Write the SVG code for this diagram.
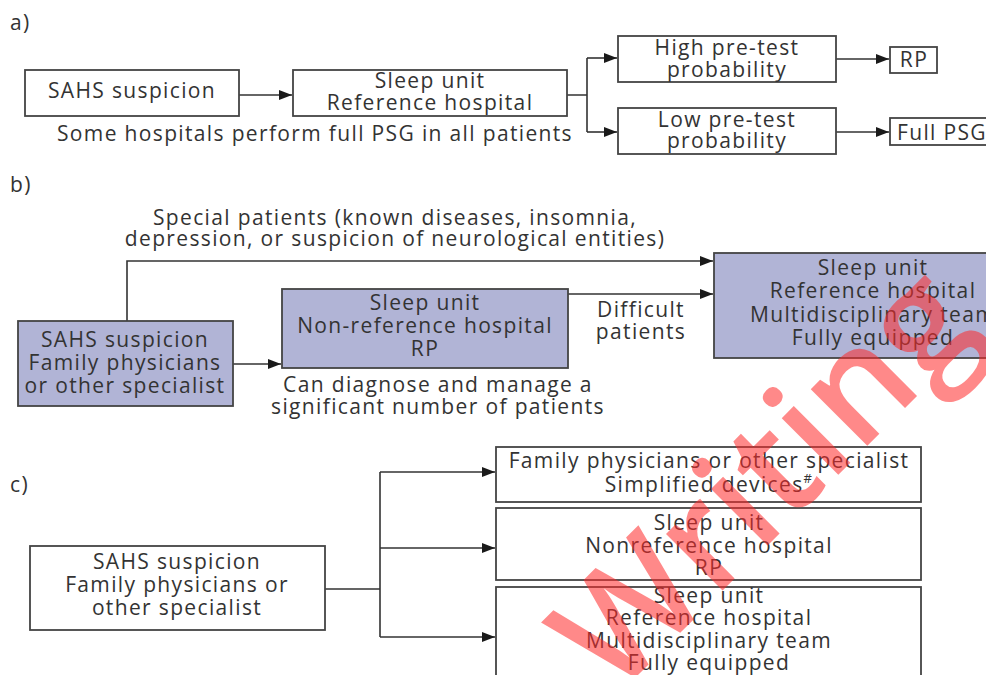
<svg xmlns="http://www.w3.org/2000/svg" width="986" height="675" viewBox="0 0 986 675">
<style>
text{font-family:"Open Sans","Liberation Sans",sans-serif;font-size:21px;fill:#333;letter-spacing:1.35px}
.c{text-anchor:middle}
.box{fill:#fff;stroke:#444;stroke-width:1.8}
.bl{fill:#b1b4d6;stroke:#444;stroke-width:1.8}
.ln{fill:none;stroke:#333;stroke-width:1.6}
.wm{font-family:"Open Sans","Liberation Sans",sans-serif;font-size:148px;font-weight:600;fill:#ff2a2a;opacity:0.55;letter-spacing:0}
</style>
<defs>
<marker id="ah" viewBox="0 0 13 10" refX="13" refY="5" markerWidth="13" markerHeight="10" markerUnits="userSpaceOnUse" orient="auto">
<path d="M0,0 L13,5 L0,10 z" fill="#1a1a1a"/>
</marker>
</defs>
<rect width="986" height="675" fill="#fff"/>

<!-- panel labels -->
<text x="10" y="30">a)</text>
<text x="10" y="192">b)</text>
<text x="10" y="492">c)</text>

<!-- connectors -->
<g id="connectors">
<path class="ln" d="M239,95 H292" marker-end="url(#ah)"/>
<path class="ln" d="M567,95 H587 M587,58 V132"/>
<path class="ln" d="M587,58 H617" marker-end="url(#ah)"/>
<path class="ln" d="M587,132 H617" marker-end="url(#ah)"/>
<path class="ln" d="M836,59 H889" marker-end="url(#ah)"/>
<path class="ln" d="M836,132 H889" marker-end="url(#ah)"/>
<path class="ln" d="M127,321 V261 H713" marker-end="url(#ah)"/>
<path class="ln" d="M233,364 H281" marker-end="url(#ah)"/>
<path class="ln" d="M568,294 H713" marker-end="url(#ah)"/>
<path class="ln" d="M325,589 H380 M380,472 V637"/>
<path class="ln" d="M380,472 H495" marker-end="url(#ah)"/>
<path class="ln" d="M380,548 H495" marker-end="url(#ah)"/>
<path class="ln" d="M380,637 H495" marker-end="url(#ah)"/>
</g>

<!-- a) nodes -->
<g id="a-sahs">
<rect class="box" x="25" y="70" width="214" height="46"/>
<text class="c" x="132" y="98">SAHS suspicion</text>
</g>
<g id="a-sleep">
<rect class="box" x="293" y="70" width="274" height="46"/>
<text class="c" x="430" y="88">Sleep unit</text>
<text class="c" x="430" y="110">Reference hospital</text>
</g>
<g id="a-note">
<text class="c" x="315" y="141">Some hospitals perform full PSG in all patients</text>
</g>
<g id="a-high">
<rect class="box" x="618" y="36" width="218" height="46"/>
<text class="c" x="727" y="55">High pre-test</text>
<text class="c" x="727" y="77">probability</text>
</g>
<g id="a-low">
<rect class="box" x="618" y="108" width="218" height="46"/>
<text class="c" x="727" y="127">Low pre-test</text>
<text class="c" x="727" y="148">probability</text>
</g>
<g id="a-rp">
<rect class="box" x="890" y="47" width="47" height="26"/>
<text class="c" x="914" y="67">RP</text>
</g>
<g id="a-fullpsg">
<rect class="box" x="890" y="118" width="110" height="27"/>
<text x="897" y="140">Full PSG</text>
</g>

<!-- b) nodes -->
<g id="b-special">
<text class="c" x="395" y="225">Special patients (known diseases, insomnia,</text>
<text class="c" x="395" y="246">depression, or suspicion of neurological entities)</text>
</g>
<g id="b-sahs">
<rect class="bl" x="18" y="321" width="215" height="85"/>
<text class="c" x="125" y="347">SAHS suspicion</text>
<text class="c" x="125" y="370">Family physicians</text>
<text class="c" x="125" y="393">or other specialist</text>
</g>
<g id="b-nonref">
<rect class="bl" x="282" y="289" width="286" height="79"/>
<text class="c" x="425" y="310">Sleep unit</text>
<text class="c" x="425" y="333">Non-reference hospital</text>
<text class="c" x="425" y="356">RP</text>
</g>
<g id="b-can">
<text class="c" x="438" y="392">Can diagnose and manage a</text>
<text class="c" x="438" y="414">significant number of patients</text>
</g>
<g id="b-difficult">
<text class="c" x="641" y="317">Difficult</text>
<text class="c" x="641" y="339">patients</text>
</g>
<g id="b-ref">
<rect class="bl" x="714" y="253" width="290" height="105"/>
<text class="c" x="873" y="275">Sleep unit</text>
<text class="c" x="873" y="298">Reference hospital</text>
<text class="c" x="873" y="322">Multidisciplinary team</text>
<text class="c" x="873" y="345">Fully equipped</text>
</g>

<!-- c) nodes -->
<g id="c-sahs">
<rect class="box" x="30" y="546" width="295" height="84"/>
<text class="c" x="177" y="569">SAHS suspicion</text>
<text class="c" x="177" y="592">Family physicians or</text>
<text class="c" x="177" y="615">other specialist</text>
</g>
<g id="c-family">
<rect class="box" x="496" y="447" width="425" height="55"/>
<text class="c" x="709" y="468">Family physicians or other specialist</text>
<text class="c" x="709" y="492">Simplified devices<tspan dy="-9" font-size="13">#</tspan></text>
</g>
<g id="c-nonref">
<rect class="box" x="496" y="508" width="425" height="72"/>
<text class="c" x="709" y="530">Sleep unit</text>
<text class="c" x="709" y="553">Nonreference hospital</text>
<text class="c" x="709" y="575">RP</text>
</g>
<g id="c-ref">
<rect class="box" x="496" y="587" width="425" height="110"/>
<text class="c" x="709" y="603">Sleep unit</text>
<text class="c" x="709" y="625">Reference hospital</text>
<text class="c" x="709" y="648">Multidisciplinary team</text>
<text class="c" x="709" y="670">Fully equipped</text>
</g>

<!-- watermark -->
<text class="wm" transform="translate(615,698) rotate(-45)">Writing</text>
</svg>
